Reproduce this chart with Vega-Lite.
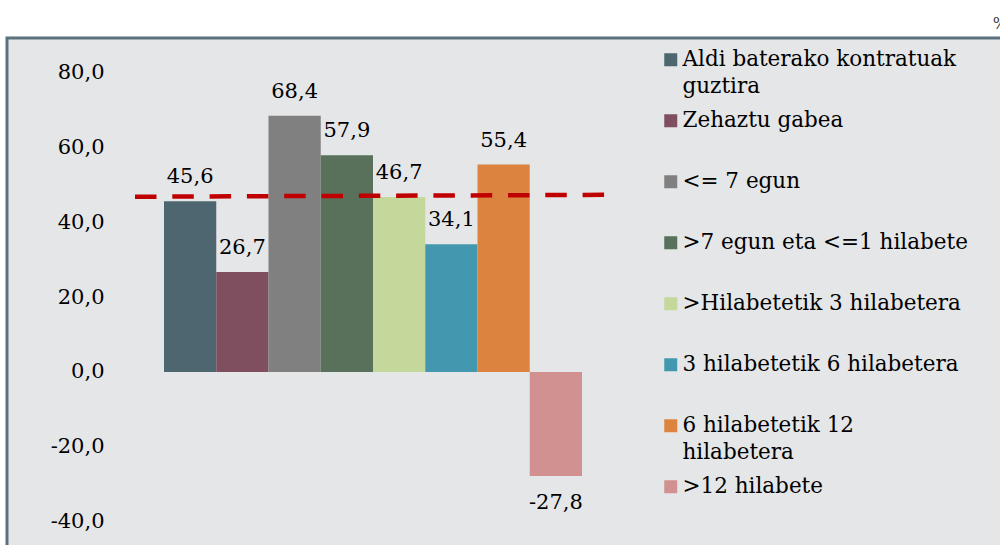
{
  "$schema": "https://vega.github.io/schema/vega-lite/v6.json",
  "autosize": "none",
  "width": 996,
  "height": 510,
  "padding": {"left": 7, "top": 38, "right": 0, "bottom": 0},
  "background": "#ffffff",
  "title": {"text": "%", "anchor": "end", "frame": "group", "orient": "top", "offset": 6, "dx": 5, "fontSize": 16, "font": "DejaVu Serif", "fontWeight": "normal", "color": "#404040"},
  "datasets": {
    "bars": [
      {"cat": "Aldi baterako kontratuak guztira", "value": 45.6},
      {"cat": "Zehaztu gabea", "value": 26.7},
      {"cat": "<= 7 egun", "value": 68.4},
      {"cat": ">7 egun eta <=1 hilabete", "value": 57.9},
      {"cat": ">Hilabetetik 3 hilabetera", "value": 46.7},
      {"cat": "3 hilabetetik 6 hilabetera", "value": 34.1},
      {"cat": "6 hilabetetik 12 hilabetera", "value": 55.4},
      {"cat": ">12 hilabete", "value": -27.8}
    ],
    "ref": [
      {"cat_from": "Aldi baterako kontratuak guztira", "cat_to": ">12 hilabete", "start": 46.8, "end": 47.3}
    ]
  },
  "encoding": {
    "x": {"field": "cat", "type": "nominal", "sort": null,
          "scale": {"domain": ["Aldi baterako kontratuak guztira", "Zehaztu gabea", "<= 7 egun", ">7 egun eta <=1 hilabete", ">Hilabetetik 3 hilabetera", "3 hilabetetik 6 hilabetera", "6 hilabetetik 12 hilabetera", ">12 hilabete"],
                    "range": [157, 575], "paddingInner": 0, "paddingOuter": 0},
          "axis": null},
    "y": {"field": "value", "type": "quantitative",
          "scale": {"domain": [-47.02, 89.19], "nice": false, "zero": false},
          "axis": {"values": [-40, -20, 0, 20, 40, 60, 80], "format": ".1f", "title": null, "grid": false, "ticks": false, "tickSize": 0, "labelPadding": -97, "labelAlign": "right", "labelBaseline": "middle", "domain": false, "labelFont": "DejaVu Serif", "labelFontSize": 21, "labelColor": "#000000", "labelOverlap": false, "labelFlush": false}}
  },
  "layer": [
    {
      "data": {"name": "bars"},
      "mark": {"type": "bar"},
      "encoding": {
        "color": {"field": "cat", "type": "nominal", "sort": null,
                  "scale": {"domain": ["Aldi baterako kontratuak guztira", "Zehaztu gabea", "<= 7 egun", ">7 egun eta <=1 hilabete", ">Hilabetetik 3 hilabetera", "3 hilabetetik 6 hilabetera", "6 hilabetetik 12 hilabetera", ">12 hilabete"],
                            "range": ["#4e6670", "#7f4f5f", "#808080", "#59705a", "#c4d89c", "#4398b0", "#dc833f", "#d19191"]},
                  "legend": {"title": null, "orient": "none", "legendX": 653, "legendY": 11, "padding": 0,
                             "symbolType": "square", "symbolSize": 169, "symbolStrokeWidth": 0, "symbolOpacity": 1,
                             "labelFont": "DejaVu Serif", "labelFontSize": 21.5, "labelColor": "#000000", "labelLimit": 400, "labelOffset": 1,
                             "gridAlign": "all", "rowPadding": 11,
                             "labelExpr": "datum.label == 'Aldi baterako kontratuak guztira' ? ['Aldi baterako kontratuak', 'guztira'] : datum.label == '6 hilabetetik 12 hilabetera' ? ['6 hilabetetik 12', 'hilabetera'] : datum.label"}}
      }
    },
    {
      "data": {"name": "bars"},
      "transform": [{"filter": "datum.value >= 0"}],
      "mark": {"type": "text", "baseline": "alphabetic", "dy": -18, "font": "DejaVu Serif", "fontSize": 21, "color": "#000000"},
      "encoding": {
        "text": {"field": "value", "type": "quantitative", "format": ".1f"}
      }
    },
    {
      "data": {"name": "bars"},
      "transform": [{"filter": "datum.value < 0"}],
      "mark": {"type": "text", "baseline": "alphabetic", "dy": 33, "font": "DejaVu Serif", "fontSize": 21, "color": "#000000"},
      "encoding": {
        "text": {"field": "value", "type": "quantitative", "format": ".1f"}
      }
    },
    {
      "data": {"name": "ref"},
      "mark": {"type": "rule", "color": "#c00000", "strokeWidth": 4.5, "strokeDash": [21.5, 15.8], "strokeCap": "butt", "xOffset": -29, "x2Offset": 23},
      "encoding": {
        "x": {"field": "cat_from", "type": "nominal", "bandPosition": 0},
        "x2": {"field": "cat_to", "bandPosition": 1},
        "y": {"field": "start", "type": "quantitative"},
        "y2": {"field": "end"}
      }
    }
  ],
  "config": {
    "view": {"fill": "#e5e6e8", "stroke": "#5b727e", "strokeWidth": 3},
    "style": {"guide-label": {"lineHeight": 27}},
    "locale": {"number": {"decimal": ",", "thousands": ".", "grouping": [3], "currency": ["", " €"], "minus": "-"}}
  }
}
